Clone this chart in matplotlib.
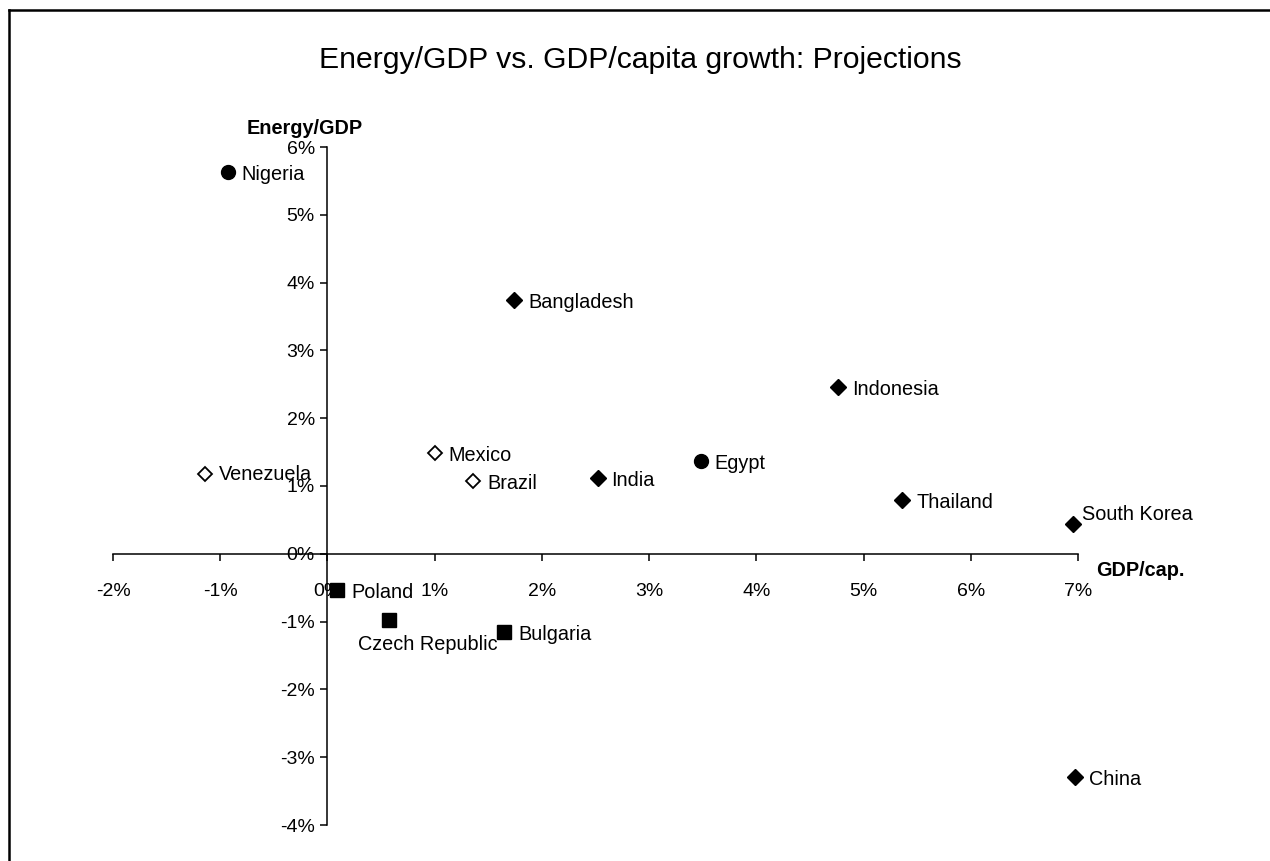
import matplotlib
matplotlib.use("Agg")
import matplotlib.pyplot as plt
from matplotlib.lines import Line2D
from matplotlib.ticker import FuncFormatter

plt.rcParams['font.family'] = ['Liberation Sans', 'DejaVu Sans']

# data (percent growth)
countries = ['Nigeria', 'Bangladesh', 'Indonesia', 'Egypt', 'Mexico', 'Venezuela',
             'Brazil', 'India', 'Thailand', 'South Korea', 'China',
             'Poland', 'Czech Republic', 'Bulgaria']
gdp_cap = [-0.93, 1.74, 4.76, 3.48, 1.00, -1.14, 1.36, 2.52, 5.36, 6.95, 6.97,
           0.09, 0.57, 1.65]
energy_gdp = [5.63, 3.75, 2.46, 1.37, 1.49, 1.17, 1.08, 1.12, 0.80, 0.44, -3.29,
              -0.53, -0.97, -1.15]
groups = ['africa', 'asia', 'asia', 'africa', 'latam', 'latam', 'latam', 'asia',
          'asia', 'asia', 'asia', 'europe', 'europe', 'europe']
x_ticks = [-2, -1, 0, 1, 2, 3, 4, 5, 6, 7]
y_ticks = [-4, -3, -2, -1, 0, 1, 2, 3, 4, 5, 6]

# marker style per group
styles = {
    'asia':   dict(marker='D', ms=8, mfc='black', mec='black'),
    'latam':  dict(marker='D', ms=7, mfc='white', mec='black', mew=1.3),
    'africa': dict(marker='o', ms=10, mfc='black', mec='black'),
    'europe': dict(marker='s', ms=10, mfc='black', mec='black'),
}

# label offsets in points, relative to the marker
default_offset = (10, -2)
label_offsets = {
    'South Korea': (7, 7),
    'Czech Republic': (-22, -18),
    'Venezuela': (10, 0),
}

fig = plt.figure(figsize=(12.7, 8.61), dpi=100)
W, H = 1270, 861
ax = fig.add_axes([113 / W, (H - 825) / H, 965 / W, 678 / H])

for name, x, y, g in zip(countries, gdp_cap, energy_gdp, groups):
    ax.plot(x, y, linestyle='none', zorder=3, clip_on=False, **styles[g])
    dx, dy = label_offsets.get(name, default_offset)
    ax.annotate(name, (x, y), xytext=(dx, dy), textcoords='offset points',
                ha='left', va='center', fontsize=14.3, zorder=4)

ax.set_xlim(-2, 7)
ax.set_ylim(-4, 6)
ax.set_xticks(x_ticks)
ax.set_yticks(y_ticks)
pct = FuncFormatter(lambda v, _: f"{v:.0f}%")
ax.xaxis.set_major_formatter(pct)
ax.yaxis.set_major_formatter(pct)

ax.spines['left'].set_position(('data', 0))
ax.spines['bottom'].set_position(('data', 0))
ax.spines['top'].set_visible(False)
ax.spines['right'].set_visible(False)
for s in ('left', 'bottom'):
    ax.spines[s].set_linewidth(1.1)
ax.tick_params(axis='both', direction='out', length=5, width=1.1, labelsize=14)
ax.tick_params(axis='x', pad=16)
ax.tick_params(axis='y', pad=4)
ax.patch.set_alpha(0)

ax.text(-0.21, 6.28, 'Energy/GDP', fontsize=14.3, fontweight='bold',
        ha='center', va='center', clip_on=False)
ax.text(7.58, -0.24, 'GDP/cap.', fontsize=14.3, fontweight='bold',
        ha='center', va='center', clip_on=False)

fig.text(640 / W, 1 - 60 / H, 'Energy/GDP vs. GDP/capita growth: Projections',
         fontsize=21.7, ha='center', va='center')

# outer frame (only top and left edges are visible in the scan)
fig.add_artist(Line2D([9 / W, 1], [1 - 10 / H, 1 - 10 / H], color='black', lw=1.8))
fig.add_artist(Line2D([9 / W, 9 / W], [0, 1 - 10 / H], color='black', lw=1.8))

fig.savefig('out.png', dpi=100)
